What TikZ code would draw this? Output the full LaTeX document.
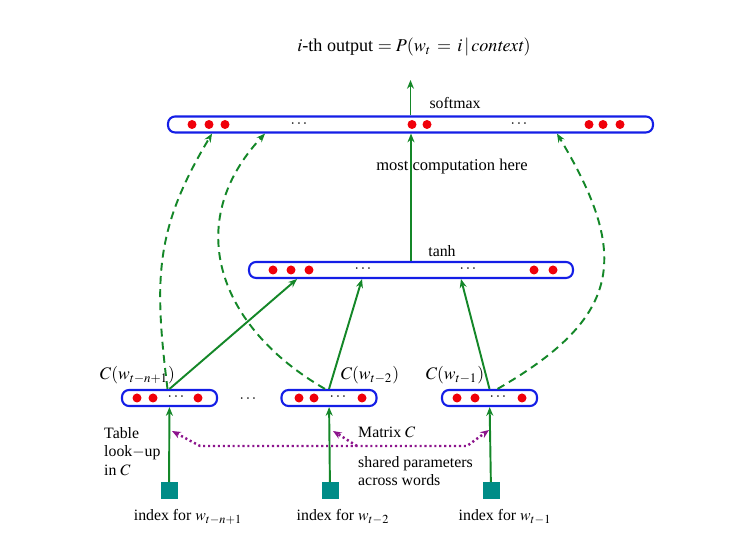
\documentclass[tikz,border=0pt]{standalone}
\usepackage{mathptmx}
\usepackage{fontspec}
\setmainfont{Liberation Serif}
\usetikzlibrary{arrows.meta}

\definecolor{barblue}{RGB}{20,30,230}
\definecolor{linegreen}{RGB}{20,135,40}
\definecolor{dotred}{RGB}{240,0,10}
\definecolor{boxteal}{RGB}{0,140,135}
\definecolor{sharepurple}{RGB}{140,20,140}
\tikzstyle{bar} = [draw=barblue, line width=1.2pt, rounded corners=4pt, minimum height=0.32cm, inner sep=0pt]
\tikzstyle{unit} = [circle, fill=dotred, inner sep=0pt, minimum size=0.18cm]
\tikzstyle{idx} = [fill=boxteal, inner sep=0pt, minimum size=0.34cm]

\begin{document}
\begin{tikzpicture}[x=0.02cm,y=0.02cm,
		every node/.style={font=\fontsize{9}{10.5}\selectfont},
		flow/.style = {linegreen, line width=1.1pt, -{Stealth[length=5pt,width=4pt]}},
		skip/.style = {flow, dash pattern=on 4.5pt off 3pt},
		share/.style = {sharepurple, line width=1.4pt, dash pattern=on 1.2pt off 1.6pt},
		lbl/.style = {font=\fontsize{10}{12}\selectfont}]
		\useasboundingbox (0,0) rectangle (750,546);
		% output layer
		\node[font=\fontsize{10.3}{12}\selectfont] (title) at (414,499) {$i$-th output $= P(w_t\,=\,i\,|\,\mathit{context})$};
		\node[bar, minimum width=9.7cm] (soft) at (410.5,421.5) {};
		\foreach \x in {192,209,225,412,427,589,603,620}
		\node[unit] (s\x) at (\x,421.5) {};
		\node (sd1) at (299,422) {$\cdots$};
		\node (sd2) at (519,422) {$\cdots$};
		\node (softlbl) at (455,443) {softmax};
		\node[font=\fontsize{9.4}{11}\selectfont] (most) at (452,379) {most computation here};
		% hidden layer
		\node[bar, minimum width=6.48cm] (tanh) at (411,276) {};
		\foreach \x in {273,291,309,534,553}
		\node[unit] (h\x) at (\x,276) {};
		\node (hd1) at (363,276.5) {$\cdots$};
		\node (hd2) at (468,276.5) {$\cdots$};
		\node (tanhlbl) at (442,295) {tanh};
		% word features
		\node[bar, minimum width=1.9cm] (b1) at (169.5,148) {};
		\node[bar, minimum width=1.9cm] (b2) at (329,148) {};
		\node[bar, minimum width=1.9cm] (b3) at (489.5,148) {};
		\foreach \x in {137,153,198,299,314,362,457,475,522}
		\node[unit] (e\x) at (\x,148) {};
		\node (bd1) at (176,148.5) {$\cdots$};
		\node (bd2) at (338,148.5) {$\cdots$};
		\node (bd3) at (498,148.5) {$\cdots$};
		\node (gap) at (248,146.5) {$\cdots$};
		\node[lbl] (c1) at (137.5,171) {$C(w_{t-n+1})$};
		\node[lbl] (c2) at (370,171) {$C(w_{t-2})$};
		\node[lbl] (c3) at (455,171) {$C(w_{t-1})$};
		% indices
		\node[idx] (sq1) at (169,55) {};
		\node[idx] (sq2) at (330,55) {};
		\node[idx] (sq3) at (491,55) {};
		\node (i1) at (188,29) {index for $w_{t-n+1}$};
		\node (i2) at (343,29) {index for $w_{t-2}$};
		\node (i3) at (505,29) {index for $w_{t-1}$};
		\node[anchor=north west, align=left] (lookup) at (98,125) {Table\\look$-$up\\in $C$};
		\node[anchor=west] (matlbl) at (352,114) {Matrix $C$};
		\node[anchor=west, align=left] (shared) at (352,75) {shared parameters\\across words};
		% connections
		\coordinate (top) at (410.5,466);
		\draw[flow] (soft.north) -- (top);
		\draw[flow] (tanh.north) -- (tanh.north |- soft.south);
		\draw[flow] (b1.north) -- ([xshift=-2.28cm]tanh.south);
		\draw[flow] (b2.north) -- ([xshift=-0.98cm]tanh.south);
		\draw[flow] (b3.north) -- ([xshift=1.0cm]tanh.south);
		\draw[flow] (sq1) -- (b1);
		\draw[flow] (sq2) -- (b2);
		\draw[flow] (sq3) -- (b3);
		\draw[skip] ([xshift=-0.04cm]b1.north) to[out=97,in=-121,looseness=1.1] ([xshift=-3.97cm]soft.south);
		\draw[skip] ([xshift=-0.08cm]b2.north) to[out=150,in=-133,looseness=1.2] ([xshift=-2.91cm]soft.south);
		\draw[skip] ([xshift=0.16cm]b3.north) to[out=30,in=-59,looseness=1.4] ([xshift=2.93cm]soft.south);
		% shared matrix
		\coordinate (tip1) at (172,115);
		\coordinate (cor1) at (200,100);
		\coordinate (cor2) at (467,100);
		\coordinate (tip3) at (489,116);
		\coordinate (mid) at (357,100);
		\coordinate (tip2) at (333,115);
		\draw[share, {Stealth[length=5pt,width=4pt]}-{Stealth[length=5pt,width=4pt]}] (tip1) -- (cor1) -- (cor2) -- (tip3);
		\draw[share, -{Stealth[length=5pt,width=4pt]}] (mid) -- (tip2);
\end{tikzpicture}
\end{document}
